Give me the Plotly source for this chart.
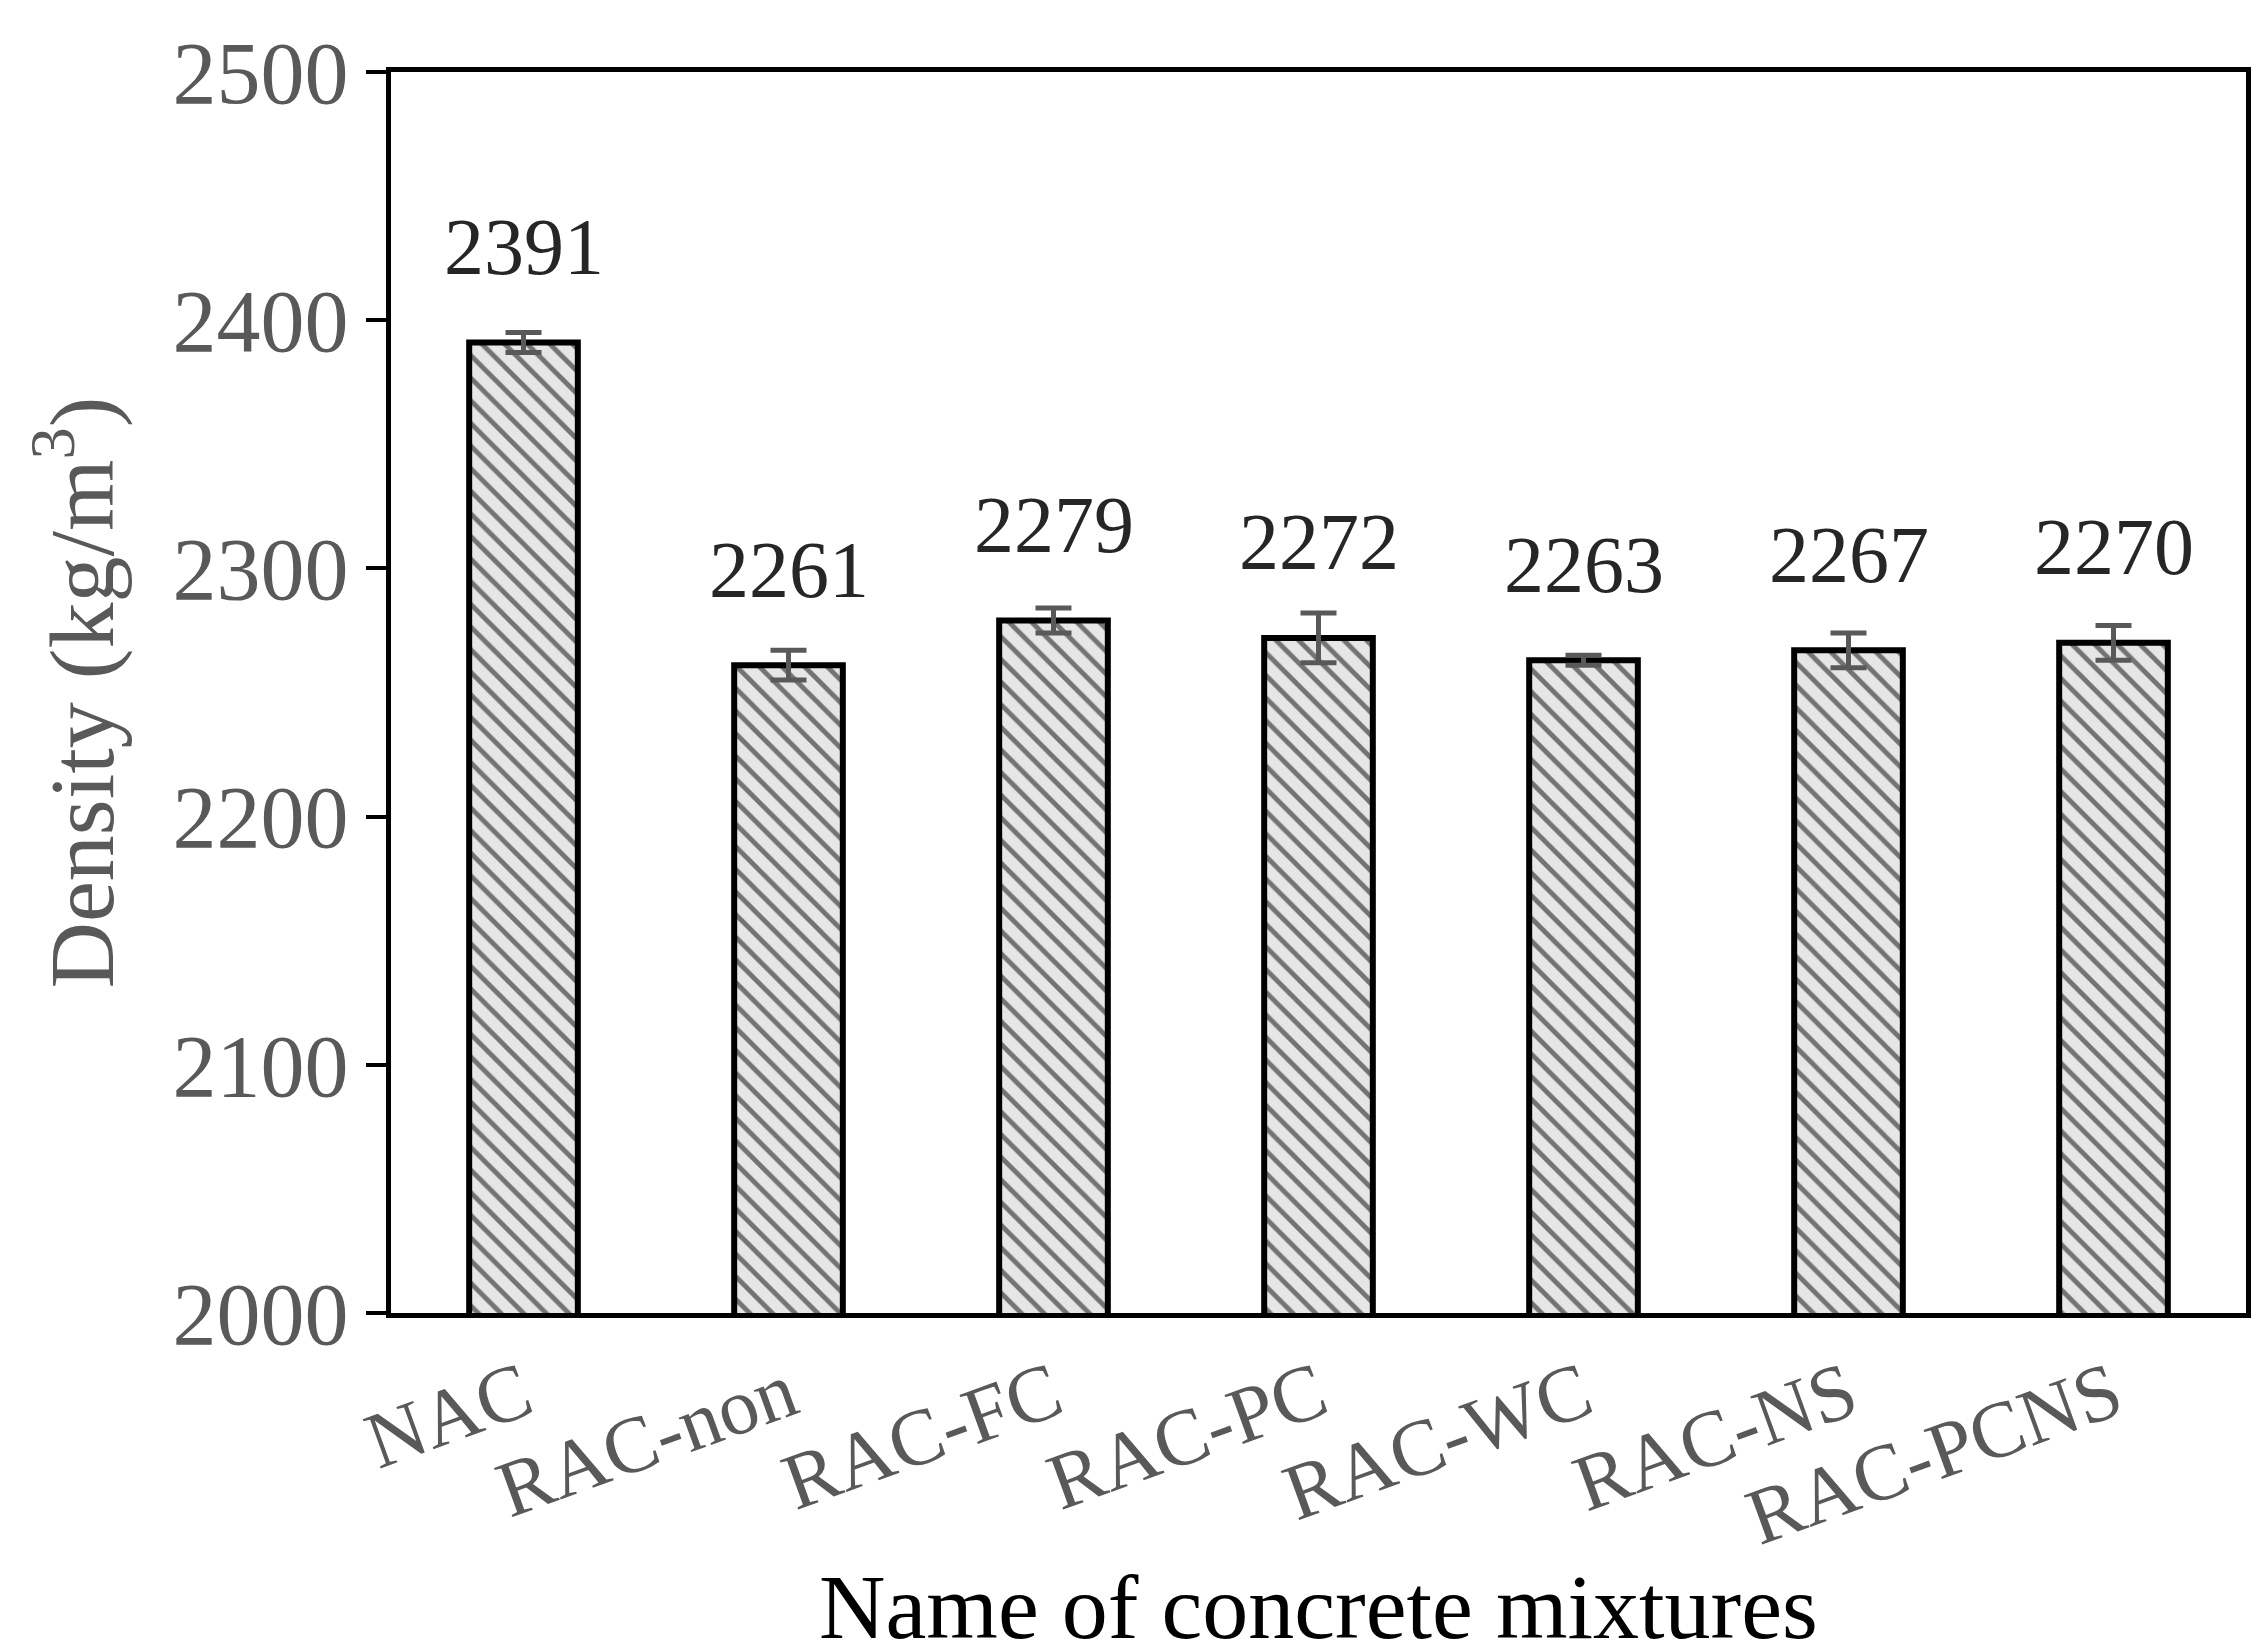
import plotly.graph_objects as go

categories = ["NAC", "RAC-non", "RAC-FC", "RAC-PC", "RAC-WC", "RAC-NS", "RAC-PCNS"]
density = [2391, 2261, 2279, 2272, 2263, 2267, 2270]
errors = [4, 6, 5, 10, 2, 7, 7]
y_ticks = [2000, 2100, 2200, 2300, 2400, 2500]

font = "Liberation Serif"
fig = go.Figure()
fig.add_trace(go.Bar(
    x=categories, y=density, width=0.41,
    marker=dict(color="#e6e6e6", line=dict(color="black", width=6),
                pattern=dict(shape="\\", fgcolor="black", bgcolor="#e6e6e6", size=16, solidity=0.3)),
    error_y=dict(type="data", array=errors, color="#595959", thickness=5, width=18),
))
for c, v in zip(categories, density):
    fig.add_annotation(x=c, y=v + 20, text=str(v), showarrow=False, yanchor="bottom",
                       font=dict(family=font, size=80, color="#262626"))
fig.update_layout(
    width=2260, height=1650, plot_bgcolor="white", paper_bgcolor="white",
    margin=dict(l=383, r=22, t=64, b=332), showlegend=False, bargap=0.59,
    xaxis=dict(showline=True, linecolor="black", linewidth=5, mirror=True, tickangle=-20,
               tickfont=dict(family=font, size=80, color="#595959"), ticks="",
               title=dict(text="Name of concrete mixtures", font=dict(family=font, size=92, color="black"), standoff=20)),
    yaxis=dict(range=[2000, 2500], tickvals=y_ticks, showline=True, linecolor="black", linewidth=5, mirror=True,
               showgrid=False, ticks="outside", ticklen=20, tickwidth=4, tickcolor="black",
               tickfont=dict(family=font, size=88, color="#595959"),
               title=dict(text="Density (kg/m<sup>3</sup>)", font=dict(family=font, size=92, color="#595959"), standoff=30)),
)
fig.write_html("out.html")
